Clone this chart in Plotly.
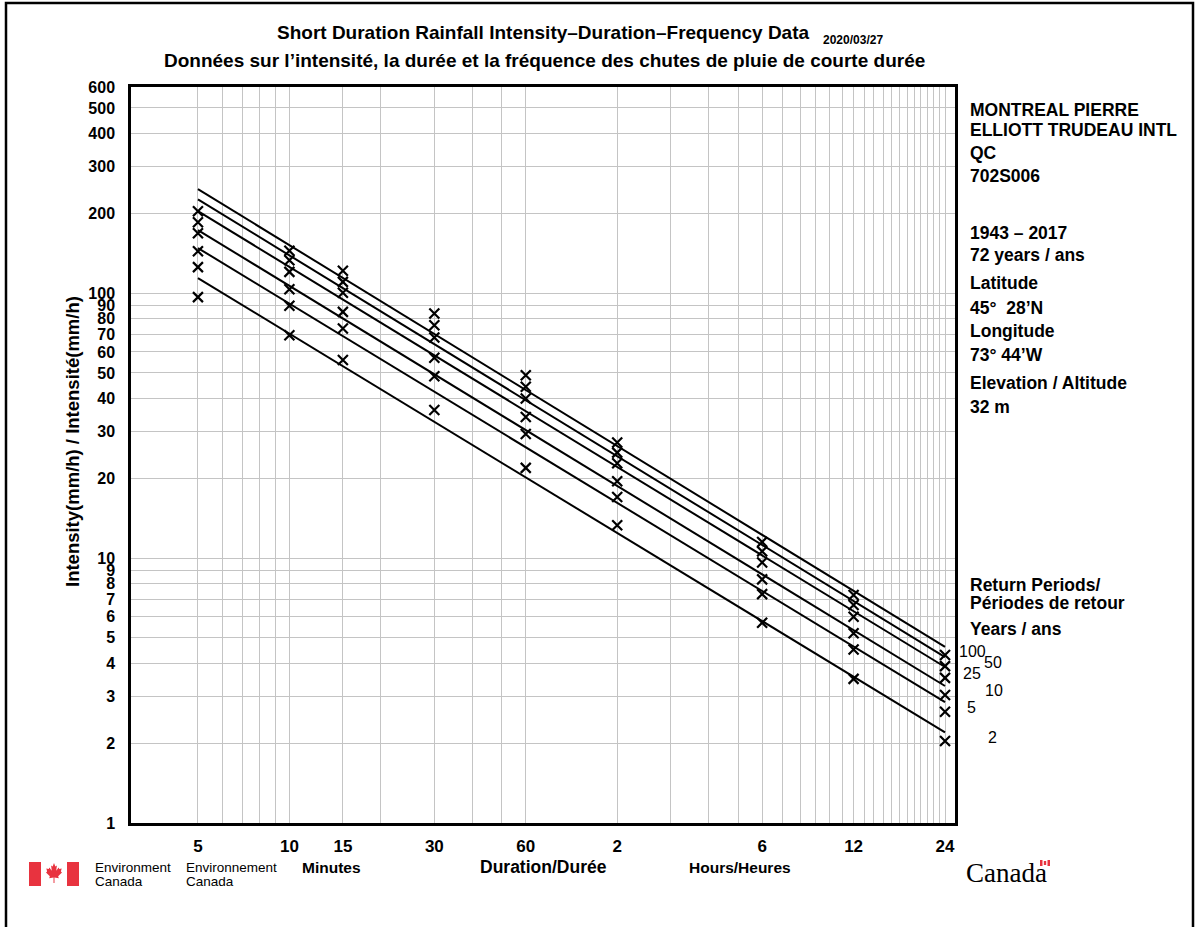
import math
import plotly.graph_objects as go

# ---------------- data ----------------
durations = [5, 10, 15, 30, 60, 120, 360, 720, 1440]          # minutes
duration_labels = ["5", "10", "15", "30", "60", "2", "6", "12", "24"]
return_periods = ["2", "5", "10", "25", "50", "100"]

obs_2yr = [96.6, 69.4, 55.9, 36.2, 21.9, 13.3, 5.70, 3.50, 2.04]
obs_5yr = [125.4, 89.6, 73.6, 48.6, 29.4, 17.0, 7.31, 4.52, 2.63]
obs_10yr = [144.0, 103.5, 85.0, 57.0, 34.1, 19.5, 8.31, 5.20, 3.04]
obs_25yr = [168.4, 120.3, 100.3, 68.0, 40.0, 22.8, 9.63, 6.01, 3.53]
obs_50yr = [185.3, 133.2, 110.3, 75.7, 44.3, 25.0, 10.6, 6.65, 3.91]
obs_100yr = [203.9, 144.5, 121.4, 83.8, 49.0, 27.3, 11.5, 7.25, 4.31]

fit_durations = [5, 1440]
fit_2yr = [114, 2.20]
fit_5yr = [148, 2.86]
fit_10yr = [173, 3.29]
fit_25yr = [204, 3.88]
fit_50yr = [226, 4.23]
fit_100yr = [247, 4.62]

x_grid = [5, 6, 7, 8, 9, 10, 15, 20, 30, 40, 50, 60,
          120, 180, 240, 300, 360, 420, 480, 540, 600, 660, 720, 780, 840,
          900, 960, 1020, 1080, 1140, 1200, 1260, 1320, 1380, 1440]
y_ticks = [1, 2, 3, 4, 5, 6, 7, 8, 9, 10, 20, 30, 40, 50, 60, 70, 80, 90,
           100, 200, 300, 400, 500, 600]

obs_all = [obs_2yr, obs_5yr, obs_10yr, obs_25yr, obs_50yr, obs_100yr]
fit_all = [fit_2yr, fit_5yr, fit_10yr, fit_25yr, fit_50yr, fit_100yr]

# ---------------- layout helpers ----------------
W, H = 1199, 927
PL, PT, PR, PB = 131, 87, 955, 823
FONT = "Liberation Sans, Arial, Helvetica, sans-serif"


def px(x):
    return (x - PL) / (PR - PL)


def py(y):
    return (PB - y) / (PB - PT)


fig = go.Figure()

for rp, fit in zip(return_periods, fit_all):
    fig.add_trace(go.Scatter(x=fit_durations, y=fit, mode="lines",
                             line=dict(color="black", width=2),
                             showlegend=False, hoverinfo="skip"))
for rp, obs in zip(return_periods, obs_all):
    fig.add_trace(go.Scatter(x=durations, y=obs, mode="markers", name=rp + " yr",
                             marker=dict(symbol="x-thin", size=10,
                                         line=dict(color="black", width=2.2)),
                             showlegend=False))

x_text = []
for v in x_grid:
    if v in durations:
        x_text.append("<b>" + duration_labels[durations.index(v)] + "</b>")
    else:
        x_text.append("")

ann = []


def text(x, y, s, size=17.5, bold=True, anchor="left", color="black",
         family=FONT, angle=0):
    ann.append(dict(x=px(x), y=py(y), xref="paper", yref="paper",
                    text=("<b>%s</b>" % s) if bold else s, showarrow=False,
                    xanchor=anchor, yanchor="middle", textangle=angle,
                    font=dict(size=size, color=color, family=family)))


# titles
text(543, 33, "Short Duration Rainfall Intensity–Duration–Frequency Data", 19, anchor="center")
text(821, 40, "2020/03/27", 12)
text(544, 60, "Données sur l’intensité, la durée et la fréquence des chutes de pluie de courte durée", 19, anchor="center")

# y title
text(72, 442, "Intensity(mm/h) / Intensité(mm/h)", 18.5, anchor="center", angle=-90)

# station info
info = [("MONTREAL PIERRE", 110), ("ELLIOTT TRUDEAU INTL", 130), ("QC", 153),
        ("702S006", 176), ("1943 – 2017", 233), ("72 years / ans", 255),
        ("Latitude", 283), ("45°  28’N", 308), ("Longitude", 331),
        ("73° 44’W", 355), ("Elevation / Altitude", 383), ("32 m", 407),
        ("Return Periods/", 585), ("Périodes de retour", 603), ("Years / ans", 629)]
for s, y in info:
    text(968, y, s, 17.5)

# return period labels
rp_pos = {"100": (957, 651), "50": (982, 662), "25": (961, 673),
          "10": (983, 690), "5": (965, 707), "2": (986, 737)}
for rp in return_periods:
    x, y = rp_pos[rp]
    text(x, y, rp, 16, bold=False)

# bottom labels
text(300, 867, "Minutes", 15.5)
text(543, 867, "Duration/Durée", 17.5, anchor="center")
text(687, 867, "Hours/Heures", 15.5)
text(93, 867, "Environment", 13.5, bold=False)
text(93, 881, "Canada", 13.5, bold=False)
text(184, 867, "Environnement", 13.5, bold=False)
text(184, 881, "Canada", 13.5, bold=False)
text(964, 873, "Canada", 27, bold=False, family="Liberation Serif, Times New Roman, serif")

shapes = []
RED = "#e8333f"
# outer frame (bottom edge falls just outside the page, as in the reference)
shapes.append(dict(type="rect", xref="paper", yref="paper",
                   x0=px(6), x1=px(1193), y0=py(932), y1=py(3),
                   line=dict(color="black", width=2.5), fillcolor="rgba(0,0,0,0)"))
# flag bars
for x0, x1 in [(29, 41), (67, 79)]:
    shapes.append(dict(type="rect", xref="paper", yref="paper",
                       x0=px(x0), x1=px(x1), y0=py(886), y1=py(862),
                       line=dict(width=0), fillcolor=RED))
# maple leaf
leaf = [(0, 1), (0.17, 0.66), (0.36, 0.74), (0.28, 0.22), (0.58, 0.56), (0.66, 0.40),
        (0.96, 0.46), (0.86, 0.14), (1.0, 0.06), (0.52, -0.32), (0.60, -0.52),
        (0.06, -0.44), (0.06, -1.0), (-0.06, -1.0), (-0.06, -0.44), (-0.60, -0.52),
        (-0.52, -0.32), (-1.0, 0.06), (-0.86, 0.14), (-0.96, 0.46), (-0.66, 0.40),
        (-0.58, 0.56), (-0.28, 0.22), (-0.36, 0.74), (-0.17, 0.66)]
cx, cy = 54, 873
path = "M " + " L ".join("%f,%f" % (px(cx + 8 * a), py(cy - 10 * b)) for a, b in leaf) + " Z"
shapes.append(dict(type="path", xref="paper", yref="paper", path=path,
                   line=dict(width=0), fillcolor=RED))
# small flag on wordmark
for x0, x1 in [(1040, 1042.5), (1047.5, 1050)]:
    shapes.append(dict(type="rect", xref="paper", yref="paper",
                       x0=px(x0), x1=px(x1), y0=py(866), y1=py(860),
                       line=dict(width=0), fillcolor=RED))
shapes.append(dict(type="rect", xref="paper", yref="paper",
                   x0=px(1043.8), x1=px(1046.2), y0=py(865), y1=py(861),
                   line=dict(width=0), fillcolor=RED))

fig.update_layout(
    width=W, height=H,
    margin=dict(l=PL, r=W - PR, t=PT, b=H - PB, pad=0),
    paper_bgcolor="white", plot_bgcolor="white",
    font=dict(family=FONT, color="black"),
    annotations=ann, shapes=shapes, showlegend=False,
)
fig.update_xaxes(type="log", range=[math.log10(3.01), math.log10(1553)],
                 tickvals=x_grid, ticktext=x_text, tickangle=0,
                 tickfont=dict(size=17, family=FONT, color="black"),
                 ticks="outside", ticklen=6, tickcolor="rgba(0,0,0,0)",
                 showgrid=True, gridcolor="#c4c4c4", gridwidth=1,
                 showline=True, linecolor="black", linewidth=2.5, mirror=True,
                 zeroline=False)
fig.update_yaxes(type="log", range=[0, math.log10(600)],
                 tickvals=y_ticks, ticktext=["<b>%d</b>" % v for v in y_ticks],
                 tickfont=dict(size=16, family=FONT, color="black"),
                 ticks="outside", ticklen=10, tickcolor="rgba(0,0,0,0)",
                 showgrid=True, gridcolor="#c4c4c4", gridwidth=1,
                 showline=True, linecolor="black", linewidth=2.5, mirror=True,
                 zeroline=False)

fig.write_html("out.html", config={"displayModeBar": False},
               post_script="document.body.style.margin='0';document.body.style.overflow='hidden';")
